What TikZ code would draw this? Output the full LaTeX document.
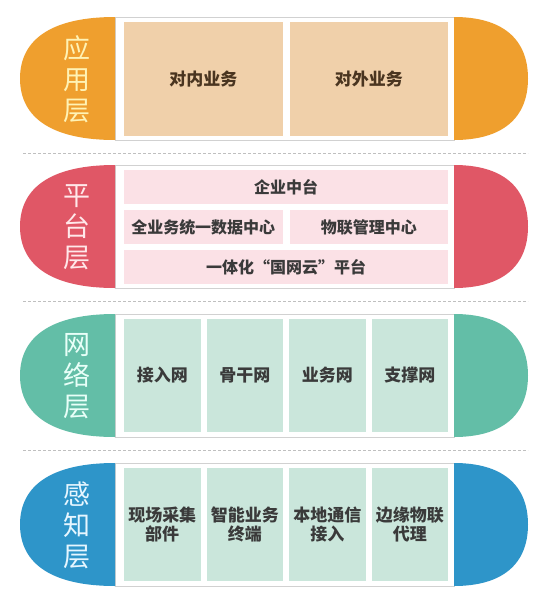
\documentclass[tikz,border=0pt]{standalone}
\usepackage{fontspec}
\setmainfont{Noto Sans CJK SC}
\usetikzlibrary{shadows}
\definecolor{orangeC}{HTML}{EF9F2E}
\definecolor{redC}{HTML}{E05766}
\definecolor{tealC}{HTML}{63BEA7}
\definecolor{blueC}{HTML}{2E95C9}
\definecolor{orangeL}{HTML}{F0D0AA}
\definecolor{pinkL}{HTML}{FBE1E6}
\definecolor{greenL}{HTML}{CAE6DB}
\definecolor{orangeT}{HTML}{FFF3B5}
\definecolor{redT}{HTML}{FFE8EA}
\definecolor{tealT}{HTML}{E8FFF8}
\definecolor{blueT}{HTML}{E6F6FF}
\definecolor{brownT}{HTML}{4A3520}
\definecolor{grayT}{HTML}{3A3A3A}
% caps: #1 colour, #2 top y, #3 middle y, #4 bottom y
\newcommand\mylcap[4]{%
  \fill[#1] (115,#2) .. controls (53,#2) and (20,#3-40) .. (20,#3)
    .. controls (20,#3+40) and (53,#4) .. (115,#4) -- cycle;}
\newcommand\myrcap[4]{%
  \fill[#1] (454,#2) .. controls (502,#2) and (528,#3-40) .. (528,#3)
    .. controls (528,#3+40) and (502,#4) .. (454,#4) -- cycle;}
\begin{document}
\begin{tikzpicture}[x=1pt,y=-1pt,
  panel/.style={draw=black!18, line width=1pt, fill=white,
    drop shadow={opacity=0.18, shadow xshift=0.8pt, shadow yshift=-1.2pt}},
  box/.style={anchor=north west, inner sep=0pt, outer sep=0pt, align=center,
    font=\fontsize{17}{19}\selectfont\bfseries, text=grayT},
  rowbox/.style={box, minimum height=34pt, font=\fontsize{16}{18}\selectfont\bfseries, fill=pinkL},
  colbox/.style={box, minimum width=76.5pt, minimum height=113pt, fill=greenL},
  lab/.style={align=center, inner sep=0pt, font=\fontsize{27}{31}\selectfont},
  sep/.style={dash pattern=on 3pt off 2pt, draw=black!25, line width=0.8pt}]
\useasboundingbox (0,0) rectangle (542,606);
\fill[white] (0,0) rectangle (542,606);

% dashed separators
\draw[sep] (23,153) -- (528,153);
\draw[sep] (23,301) -- (528,301);
\draw[sep] (23,450) -- (528,450);

% ---------- Layer 1 ----------
\path[panel] (115,17) rectangle (454,140);
\mylcap{orangeC}{17}{78.5}{140}
\myrcap{orangeC}{17}{78.5}{140}
\node[lab, text=orangeT] (lab1) at (77,79) {应\\用\\层};
\node[box, fill=orangeL, minimum width=158.5pt, minimum height=114pt, text=brownT] (a1) at (124,22) {对内业务};
\node[box, fill=orangeL, minimum width=158.5pt, minimum height=114pt, text=brownT] (a2) at (289.5,22) {对外业务};

% ---------- Layer 2 ----------
\path[panel] (115,165) rectangle (454,288);
\mylcap{redC}{165}{226.5}{288}
\myrcap{redC}{165}{226.5}{288}
\node[lab, text=redT] (lab2) at (77,227) {平\\台\\层};
\node[rowbox, minimum width=324pt] (b1) at (124,170) {企业中台};
\node[rowbox, minimum width=158.5pt] (b2) at (124,210) {全业务统一数据中心};
\node[rowbox, minimum width=158.5pt] (b3) at (289.5,210) {物联管理中心};
\node[rowbox, minimum width=324pt] (b4) at (124,250) {一体化“国网云”平台};

% ---------- Layer 3 ----------
\path[panel] (115,314) rectangle (454,437);
\mylcap{tealC}{314}{375.5}{437}
\myrcap{tealC}{314}{375.5}{437}
\node[lab, text=tealT] (lab3) at (77,376) {网\\络\\层};
\node[colbox] (c1) at (124,319) {接入网};
\node[colbox] (c2) at (206.5,319) {骨干网};
\node[colbox] (c3) at (289,319) {业务网};
\node[colbox] (c4) at (371.5,319) {支撑网};

% ---------- Layer 4 ----------
\path[panel] (115,463) rectangle (454,586);
\mylcap{blueC}{463}{524.5}{586}
\myrcap{blueC}{463}{524.5}{586}
\node[lab, text=blueT] (lab4) at (77,525) {感\\知\\层};
\node[colbox] (d1) at (124,468) {现场采集\\部件};
\node[colbox] (d2) at (206.5,468) {智能业务\\终端};
\node[colbox] (d3) at (289,468) {本地通信\\接入};
\node[colbox] (d4) at (371.5,468) {边缘物联\\代理};
\end{tikzpicture}
\end{document}
